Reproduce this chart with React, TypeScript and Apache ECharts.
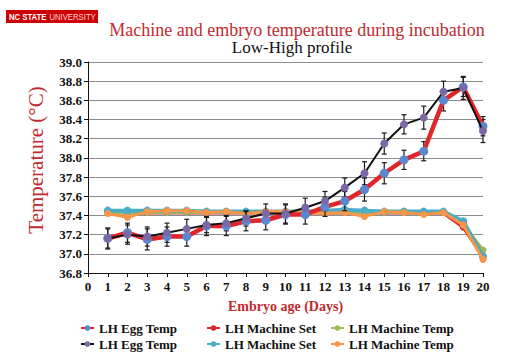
import React, { useEffect, useRef } from "react";
import * as echarts from "echarts";

const days = [1, 2, 3, 4, 5, 6, 7, 8, 9, 10, 11, 12, 13, 14, 15, 16, 17, 18, 19, 20];
const xTicks = [0, 1, 2, 3, 4, 5, 6, 7, 8, 9, 10, 11, 12, 13, 14, 15, 16, 17, 18, 19, 20];

const eggTempA = [37.16, 37.22, 37.15, 37.18, 37.18, 37.29, 37.29, 37.34, 37.35, 37.41, 37.41, 37.49, 37.55, 37.67, 37.84, 37.98, 38.07, 38.6, 38.74, 38.33];
const eggTempAErr = [0.1, 0.1, 0.11, 0.1, 0.1, 0.1, 0.1, 0.1, 0.1, 0.1, 0.1, 0.1, 0.1, 0.12, 0.11, 0.1, 0.1, 0.11, 0.1, 0.1];
const eggTempB = [37.16, 37.2, 37.18, 37.22, 37.26, 37.3, 37.32, 37.37, 37.42, 37.42, 37.48, 37.55, 37.69, 37.84, 38.15, 38.35, 38.42, 38.69, 38.73, 38.28];
const eggTempBErr = [0.11, 0.1, 0.1, 0.1, 0.1, 0.08, 0.08, 0.08, 0.1, 0.1, 0.1, 0.1, 0.1, 0.12, 0.11, 0.1, 0.12, 0.11, 0.12, 0.12];

const machineSetA = [37.43, 37.43, 37.43, 37.43, 37.43, 37.43, 37.43, 37.43, 37.43, 37.43, 37.43, 37.43, 37.43, 37.43, 37.43, 37.43, 37.43, 37.43, 37.28, 36.98];
const machineTempA = [37.43, 37.43, 37.43, 37.43, 37.43, 37.43, 37.43, 37.43, 37.43, 37.43, 37.43, 37.43, 37.43, 37.43, 37.43, 37.43, 37.43, 37.43, 37.31, 37.04];
const machineSetB = [37.45, 37.45, 37.45, 37.45, 37.45, 37.44, 37.44, 37.44, 37.44, 37.44, 37.44, 37.45, 37.46, 37.45, 37.44, 37.44, 37.44, 37.44, 37.34, 36.97];
const machineTempB = [37.42, 37.38, 37.44, 37.45, 37.45, 37.43, 37.44, 37.42, 37.44, 37.44, 37.43, 37.42, 37.43, 37.39, 37.44, 37.43, 37.41, 37.43, 37.3, 36.94];

const NAME_EGG_A = "LH Egg Temp#1";
const NAME_SET_A = "LH Machine Set#1";
const NAME_TMP_A = "LH Machine Temp#1";
const NAME_EGG_B = "LH Egg Temp#2";
const NAME_SET_B = "LH Machine Set#2";
const NAME_TMP_B = "LH Machine Temp#2";

const SERIF = "Liberation Serif";
const DARK_RED = "#bf2a2f";

const pairs = (vals: number[]) => days.map((d, i) => [d, vals[i]]);
const errData = (vals: number[], errs: number[]) =>
  days.map((d, i) => [d, vals[i] - errs[i], vals[i] + errs[i]]);

const errorRender = (params: any, api: any) => {
  const x = api.value(0);
  const lo = api.coord([x, api.value(1)]);
  const hi = api.coord([x, api.value(2)]);
  const w = 2.5;
  const st = { stroke: "#1a1a1a", lineWidth: 1.2 };
  return {
    type: "group",
    children: [
      { type: "line", shape: { x1: lo[0], y1: lo[1], x2: hi[0], y2: hi[1] }, style: st },
      { type: "line", shape: { x1: lo[0] - w, y1: lo[1], x2: lo[0] + w, y2: lo[1] }, style: st },
      { type: "line", shape: { x1: hi[0] - w, y1: hi[1], x2: hi[0] + w, y2: hi[1] }, style: st },
    ],
  };
};

const lineSeries = (name: string, data: number[], lineColor: string, markColor: string, width: number, size: number, z: number) => ({
  name,
  type: "line",
  data: pairs(data),
  symbol: "circle",
  symbolSize: size,
  z,
  lineStyle: { color: lineColor, width },
  itemStyle: { color: markColor },
});

const legendText = { fontFamily: SERIF, fontSize: 13, fontWeight: "bold", color: "#111", lineHeight: 14 };
const stripName = (n: string) => n.replace(/#\d$/, "");

export default function App() {
  const ref = useRef<HTMLDivElement>(null);
  useEffect(() => {
    if (!ref.current) return;
    const chart = echarts.init(ref.current, undefined, { renderer: "svg" });
    const legendBase = {
      orient: "vertical",
      top: 321,
      itemGap: 2,
      itemWidth: 13,
      itemHeight: 7,
      textStyle: legendText,
      formatter: stripName,
      selectedMode: false,
      padding: 0,
    };
    chart.setOption({
      animation: false,
      backgroundColor: "#ffffff",
      textStyle: { fontFamily: SERIF },
      title: [
        {
          text: "Machine and embryo temperature during incubation",
          left: 297,
          top: 21,
          textAlign: "center",
          padding: 0,
          textStyle: { fontFamily: SERIF, fontSize: 18, lineHeight: 17, fontWeight: "normal", color: DARK_RED },
        },
        {
          text: "Low-High profile",
          left: 292,
          top: 40,
          textAlign: "center",
          padding: 0,
          textStyle: { fontFamily: SERIF, fontSize: 17, lineHeight: 15, fontWeight: "normal", color: "#111" },
        },
      ],
      graphic: [
        {
          type: "rect",
          shape: { x: 6, y: 10, width: 92, height: 13 },
          style: { fill: "#cc0000" },
        },
        {
          type: "text",
          x: 9,
          y: 16.5,
          scaleX: 0.86,
          style: {
            text: "{a|NC STATE} {b|UNIVERSITY}",
            verticalAlign: "middle",
            rich: {
              a: { fontFamily: "Liberation Sans", fontSize: 9, fontWeight: "bold", fill: "#ffffff" },
              b: { fontFamily: "Liberation Sans", fontSize: 9, fontWeight: "normal", fill: "#ffd6d6" },
            },
          },
        },
        {
          type: "text",
          x: 36,
          y: 160,
          rotation: Math.PI / 2,
          style: {
            text: "Temperature (°C)",
            align: "center",
            verticalAlign: "middle",
            fontFamily: SERIF,
            fontSize: 21,
            fill: DARK_RED,
          },
        },
      ],
      legend: [
        { ...legendBase, left: 80, data: [NAME_EGG_A, NAME_EGG_B] },
        { ...legendBase, left: 206, data: [NAME_SET_A, NAME_SET_B] },
        { ...legendBase, left: 330, data: [NAME_TMP_A, NAME_TMP_B] },
      ],
      grid: { left: 88, right: 37, top: 62, bottom: 83 },
      xAxis: {
        type: "value",
        min: 0,
        max: 20,
        interval: 1,
        name: "Embryo age (Days)",
        nameLocation: "middle",
        nameGap: 26,
        nameTextStyle: { fontFamily: SERIF, fontSize: 14, fontWeight: "bold", color: DARK_RED },
        axisLine: { show: true, lineStyle: { color: "#111", width: 1 } },
        axisTick: { show: true, length: 4, lineStyle: { color: "#111" } },
        axisLabel: {
          fontFamily: SERIF,
          fontSize: 13,
          fontWeight: "bold",
          color: "#111",
          margin: 7,
          formatter: (v: number) => (xTicks.includes(v) ? String(v) : ""),
        },
        splitLine: { show: false },
      },
      yAxis: {
        type: "value",
        min: 36.8,
        max: 39.0,
        interval: 0.2,
        axisLine: { show: true, lineStyle: { color: "#111", width: 1 } },
        axisTick: { show: true, length: 4, lineStyle: { color: "#111" } },
        axisLabel: {
          fontFamily: SERIF,
          fontSize: 13,
          fontWeight: "bold",
          color: "#111",
          margin: 6,
          formatter: (v: number) => v.toFixed(1),
        },
        splitLine: { show: true, lineStyle: { color: "#8c8c8c", width: 1 } },
      },
      series: [
        lineSeries(NAME_SET_A, machineSetA, "#e0262a", "#e0262a", 4, 7, 2),
        lineSeries(NAME_TMP_A, machineTempA, "#9bbb59", "#9bbb59", 3, 7, 3),
        lineSeries(NAME_SET_B, machineSetB, "#4bacc6", "#4bacc6", 4, 8, 4),
        lineSeries(NAME_TMP_B, machineTempB, "#f79646", "#f79646", 3, 7, 5),
        {
          name: "errA",
          type: "custom",
          renderItem: errorRender,
          data: errData(eggTempA, eggTempAErr),
          encode: { x: 0, y: [1, 2] },
          z: 6,
        },
        {
          name: "errB",
          type: "custom",
          renderItem: errorRender,
          data: errData(eggTempB, eggTempBErr),
          encode: { x: 0, y: [1, 2] },
          z: 6,
        },
        lineSeries(NAME_EGG_A, eggTempA, "#e0262a", "#5b86d0", 4.5, 9, 7),
        lineSeries(NAME_EGG_B, eggTempB, "#111111", "#7b68a6", 2, 8, 8),
      ],
    });
    return () => chart.dispose();
  }, []);
  return (
    <div
      ref={ref}
      style={{ position: "fixed", left: 0, top: 0, width: 520, height: 356, background: "#fff" }}
    />
  );
}
